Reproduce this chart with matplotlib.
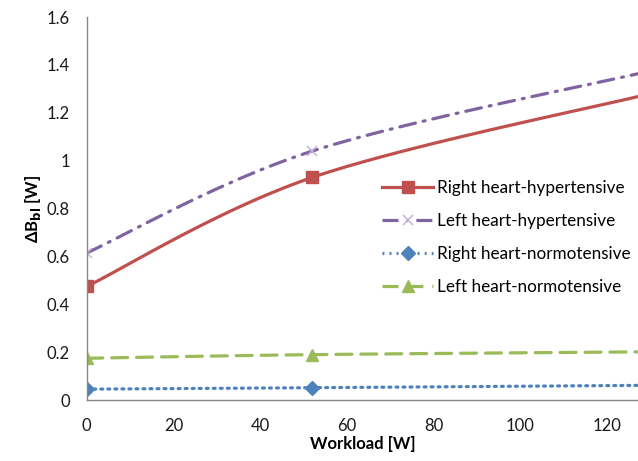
import numpy as np
import matplotlib.pyplot as plt

# workload points and Delta B_bl values
workload = [0, 52, 130]
right_hyper = [0.475, 0.93, 1.28]
left_hyper = [0.615, 1.04, 1.375]
right_normo = [0.046, 0.052, 0.062]
left_normo = [0.175, 0.19, 0.202]

labels = ['Right heart-hypertensive', 'Left heart-hypertensive',
          'Right heart-normotensive', 'Left heart-normotensive']


def smooth(x, y, n=60):
    # Excel style smoothed line: cubic Bezier through the points
    x = np.asarray(x, float)
    y = np.asarray(y, float)
    px = np.concatenate([[x[0]], x, [x[-1]]])
    py = np.concatenate([[y[0]], y, [y[-1]]])
    xs, ys = [], []
    t = np.linspace(0, 1, n)
    for i in range(len(x) - 1):
        p0 = np.array([px[i + 1], py[i + 1]])
        p3 = np.array([px[i + 2], py[i + 2]])
        c1 = p0 + (np.array([px[i + 2], py[i + 2]]) - np.array([px[i], py[i]])) / 6
        c2 = p3 - (np.array([px[i + 3], py[i + 3]]) - np.array([px[i + 1], py[i + 1]])) / 6
        b = (np.outer((1 - t) ** 3, p0) + np.outer(3 * (1 - t) ** 2 * t, c1)
             + np.outer(3 * (1 - t) * t ** 2, c2) + np.outer(t ** 3, p3))
        xs.append(b[:, 0])
        ys.append(b[:, 1])
    return np.concatenate(xs), np.concatenate(ys)


plt.rcParams['font.family'] = ['Lato', 'DejaVu Sans']

fig = plt.figure(figsize=(6.38, 4.61), dpi=100)
ax = fig.add_axes([0.136, 0.132, 0.864, 0.831])

styles = [
    dict(color='#C0504D', ls='-', marker='s', ms=9, mfc='#C0504D', mec='#C0504D'),
    dict(color='#8064A2', ls=(0, (5, 2.5, 0.6, 2.5)), marker='x', ms=7, mfc='none',
         mec='#C3B5D8', mew=1.1),
    dict(color='#4F81BD', ls=(0, (0.6, 1.6)), marker='D', ms=7, mfc='#4F81BD', mec='#4F81BD'),
    dict(color='#9BBB59', ls=(0, (5, 2.8)), marker='^', ms=9, mfc='#9BBB59', mec='#9BBB59'),
]
series = [right_hyper, left_hyper, right_normo, left_normo]

handles = []
for vals, st, lab in zip(series, styles, labels):
    sx, sy = smooth(workload, vals)
    ax.plot(sx, sy, color=st['color'], ls=st['ls'], lw=2.3, solid_capstyle='round',
            dash_capstyle='round')
    ax.plot(workload, vals, ls='none', marker=st['marker'], ms=st['ms'],
            mfc=st['mfc'], mec=st['mec'], mew=st.get('mew', 1))
    h, = ax.plot([], [], color=st['color'], ls=st['ls'], lw=2.3, marker=st['marker'],
                 ms=st['ms'], mfc=st['mfc'], mec=st['mec'], mew=st.get('mew', 1),
                 label=lab)
    handles.append(h)

ax.set_xlim(0, 127.2)
ax.set_ylim(0, 1.6)
ax.set_xticks([0, 20, 40, 60, 80, 100, 120])
ax.set_yticks([0, 0.2, 0.4, 0.6, 0.8, 1, 1.2, 1.4, 1.6])
ax.set_yticklabels(['0', '0.2', '0.4', '0.6', '0.8', '1', '1.2', '1.4', '1.6'])
ax.tick_params(length=0, labelsize=12, colors='#1a1a1a', pad=13)
ax.tick_params(axis='y', pad=12)
for s in ['top', 'right']:
    ax.spines[s].set_visible(False)
for s in ['left', 'bottom']:
    ax.spines[s].set_color('#868686')
    ax.spines[s].set_linewidth(1)

ax.set_xlabel('Workload [W]', fontsize=12, fontweight='bold', labelpad=1)
ax.set_ylabel(r'ΔB$_{\mathbf{bl}}$ [W]', fontsize=12, fontweight='bold', labelpad=3)

leg = fig.legend(handles=handles, loc='upper left', bbox_to_anchor=(0.588, 0.625),
                 frameon=False, fontsize=12.3, handlelength=3.0, labelspacing=1.0,
                 handletextpad=0.25, borderaxespad=0)

fig.savefig('out.png', dpi=100)
